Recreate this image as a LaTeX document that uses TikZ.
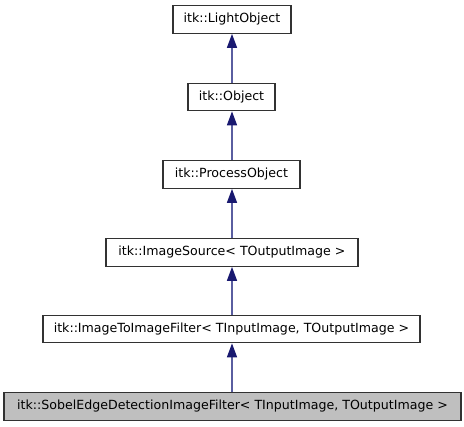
\documentclass[tikz,border=0pt]{standalone}
\usepackage{fontspec}
\setmainfont{DejaVu Sans}
\usetikzlibrary{arrows.meta}
\definecolor{edgeblue}{RGB}{25,25,112}
\definecolor{edgeline}{RGB}{90,94,160}
\definecolor{boxline}{RGB}{50,50,50}
\definecolor{hlfill}{RGB}{191,191,191}
\begin{document}
\begin{tikzpicture}[x=1pt,y=-1pt,
  cls/.style={draw=boxline,line width=1.3pt,fill=white,inner sep=0pt,minimum height=27.5pt,
    font=\fontsize{12.6}{14}\selectfont,anchor=center},
  hl/.style={cls,fill=hlfill},
  inh/.style={draw=edgeline,line width=1.5pt,
    {Triangle[length=14pt,width=10pt,fill=edgeblue,color=edgeblue]}-}]
\useasboundingbox (0,0) rectangle (464,427);
\node[cls,minimum width=118pt] (lo) at (232,19.5) {itk::LightObject};
\node[cls,minimum width=87pt] (ob) at (231.5,97) {itk::Object};
\node[cls,minimum width=137pt] (po) at (231.5,174.5) {itk::ProcessObject};
\node[cls,minimum width=252pt] (is) at (232,252.5) {itk::ImageSource< TOutputImage >};
\node[cls,minimum width=377pt] (ii) at (231.5,329) {itk::ImageToImageFilter< TInputImage, TOutputImage >};
\node[hl,minimum width=457pt] (se) at (232.5,406.5) {itk::SobelEdgeDetectionImageFilter< TInputImage, TOutputImage >};
\draw[inh] (lo.south -| 232,0) -- (ob.north -| 232,0);
\draw[inh] (ob.south -| 232,0) -- (po.north -| 232,0);
\draw[inh] (po.south -| 232,0) -- (is.north -| 232,0);
\draw[inh] (is.south -| 232,0) -- (ii.north -| 232,0);
\draw[inh] (ii.south -| 232,0) -- (se.north -| 232,0);
\end{tikzpicture}
\end{document}
